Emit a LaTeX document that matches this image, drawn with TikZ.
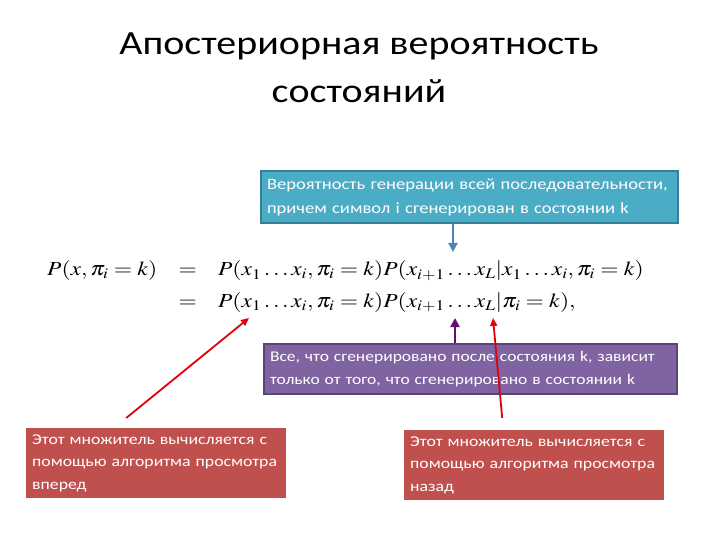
\documentclass[tikz,border=0pt]{standalone}
\usepackage{amsmath}
\usepackage{graphicx}
\usepackage{mathptmx}
\usepackage[no-math]{fontspec}
\setmainfont[FakeStretch=1.18]{Carlito}
\usepackage{tikz}
\usetikzlibrary{positioning, arrows.meta}
\definecolor{aquabox}{RGB}{75,172,198}
\definecolor{aquaedge}{RGB}{52,128,150}
\definecolor{purplebox}{RGB}{128,100,162}
\definecolor{purpleedge}{RGB}{90,68,116}
\definecolor{redbox}{RGB}{192,80,77}
\definecolor{bluearrow}{RGB}{79,129,189}
\definecolor{purplearrow}{RGB}{96,18,104}
\definecolor{redarrow}{RGB}{226,0,10}

\begin{document}
\begin{tikzpicture}[x=1bp, y=-1bp,
  notebox/.style={anchor=north west, text=white, align=left, inner xsep=6bp},
  aquanote/.style={notebox, fill=aquabox, draw=aquaedge, line width=2bp, text width=405bp, minimum height=52bp, font=\fontsize{15.8}{24}\selectfont},
  purplenote/.style={notebox, fill=purplebox, draw=purpleedge, line width=2bp, text width=401bp, minimum height=50bp, font=\fontsize{14.9}{23}\selectfont},
  rednote/.style={notebox, fill=redbox, text width=248bp, minimum height=70bp, font=\fontsize{15.1}{22.5}\selectfont},
  pointer/.style={line width=2.6bp, -{Triangle[length=9bp,width=9bp]}},
  redpointer/.style={redarrow, line width=1.8bp, -{Triangle[length=8bp,width=7bp]}}]
\useasboundingbox (0,0) rectangle (720,540);
\node[align=center, anchor=north, font=\fontsize{34}{48}\selectfont] (title) at (359,29) {Апостериорная вероятность\\состояний};
\node[anchor=base west, inner sep=0pt, font=\fontsize{20}{32}\selectfont] (eqn) at (47,276)
  {\scalebox{1.18}[1]{\setlength{\arraycolsep}{9bp}$\begin{array}[t]{@{}rcl@{}}
  P(x,\pi_i=k) & = & P(x_1\ldots x_i,\pi_i=k)P(x_{i+1}\ldots x_L|x_1\ldots x_i,\pi_i=k)\\
               & = & P(x_1\ldots x_i,\pi_i=k)P(x_{i+1}\ldots x_L|\pi_i=k),
  \end{array}$}};
\node[aquanote] (whole) at (260,170) {Вероятность генерации всей последовательности,\\причем символ i сгенерирован в состоянии k};
\node[purplenote] (after) at (263,343) {Все, что сгенерировано после состояния k, зависит\\только от того, что сгенерировано в состоянии k};
\node[rednote] (fwd) at (26,428) {Этот множитель вычисляется с\\помощью алгоритма просмотра\\вперед};
\node[rednote] (bwd) at (404,430) {Этот множитель вычисляется с\\помощью алгоритма просмотра\\назад};
\coordinate (jointip) at (453,252);
\coordinate (dotstip) at (455,318);
\coordinate (fwdtip) at (249,318);
\coordinate (bwdtip) at (493,318);
\draw[pointer, bluearrow] (whole.south -| jointip) -- (jointip);
\draw[pointer, purplearrow] (after.north -| dotstip) -- (dotstip);
\draw[redpointer] ([shift={(-30,-10)}]fwd.north) -- (fwdtip);
\draw[redpointer] ([shift={(-32,-12)}]bwd.north) -- (bwdtip);
\end{tikzpicture}
\end{document}
